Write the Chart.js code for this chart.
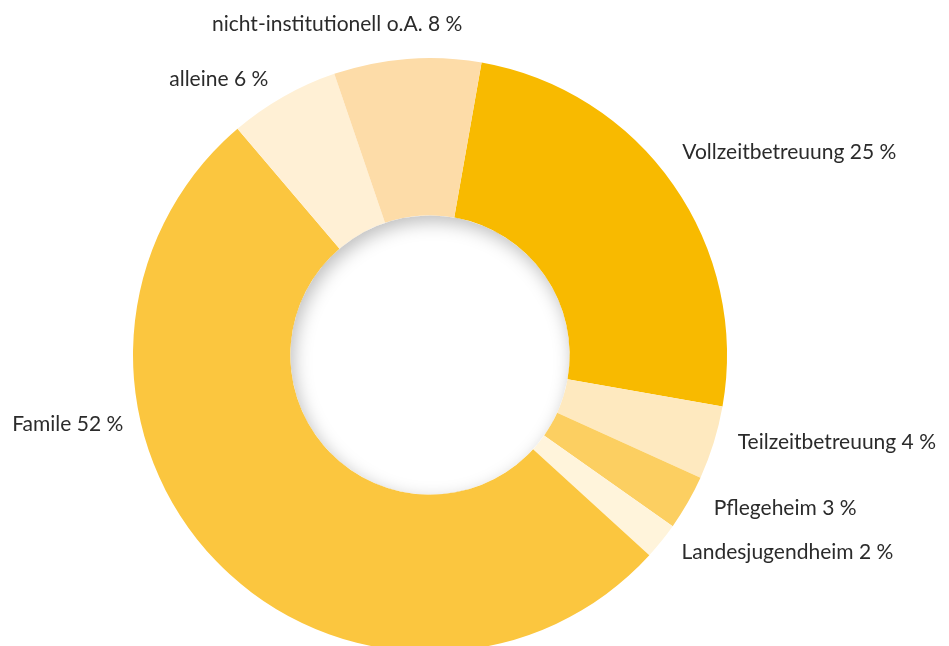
<!DOCTYPE html>
<html>
<head>
<meta charset="utf-8">
<script src="https://cdn.jsdelivr.net/npm/chart.js@4.4.0/dist/chart.umd.min.js"></script>
<style>
  html, body { margin: 0; padding: 0; background: #fff; overflow: hidden; }
  #wrap { width: 949px; height: 646px; overflow: hidden; }
</style>
</head>
<body>
<div id="wrap"><canvas id="chart" width="949" height="660"></canvas></div>
<script>
// Verteilung nach Wohnform (Anteile in %)
var categories = ['Vollzeitbetreuung', 'Teilzeitbetreuung', 'Pflegeheim', 'Landesjugendheim', 'Famile', 'alleine', 'nicht-institutionell o.A.'];
var shares = [25, 4, 3, 2, 52, 6, 8];
var sliceColors = ['#F8BA00', '#FEE9BF', '#FCCF61', '#FFF4DB', '#FBC63F', '#FFF0D5', '#FDDCA8'];

// label placement relative to the outer middle of each slice: [dx, dy(baseline), align]
var labelOffsets = [
    [9, -26, 'left'],
    [24, 6, 'left'],
    [26, 12, 'left'],
    [20, 18, 'left'],
    [-93, -130, 'right'],
    [-15, -11, 'right'],
    [-70, -28, 'center']
];

// soft inner shadow in the hole
var holeShadow = {
    id: 'holeShadow',
    afterDatasetsDraw: function (chart) {
        var arc = chart.getDatasetMeta(0).data[0];
        var ctx = chart.ctx;
        var r = arc.innerRadius;
        ctx.save();
        ctx.beginPath();
        ctx.arc(arc.x, arc.y, r, 0, Math.PI * 2);
        ctx.clip();
        ctx.beginPath();
        ctx.rect(arc.x - r * 3, arc.y - r * 3, r * 6, r * 6);
        ctx.arc(arc.x, arc.y, r, 0, Math.PI * 2, true);
        ctx.shadowColor = 'rgba(0,0,0,0.26)';
        ctx.shadowBlur = 18;
        ctx.shadowOffsetX = 3;
        ctx.shadowOffsetY = 6;
        ctx.fillStyle = '#fff';
        ctx.fill();
        ctx.restore();
    }
};

var sliceLabels = {
    id: 'sliceLabels',
    afterDraw: function (chart) {
        var ctx = chart.ctx;
        var meta = chart.getDatasetMeta(0);
        ctx.save();
        ctx.font = '21px Lato, "Open Sans", sans-serif';
        ctx.fillStyle = '#2b2b2b';
        ctx.textBaseline = 'alphabetic';
        meta.data.forEach(function (arc, i) {
            var mid = (arc.startAngle + arc.endAngle) / 2;
            var px = arc.x + Math.cos(mid) * arc.outerRadius;
            var py = arc.y + Math.sin(mid) * arc.outerRadius;
            var o = labelOffsets[i];
            ctx.textAlign = o[2];
            ctx.fillText(categories[i] + ' ' + shares[i] + ' %', px + o[0], py + o[1]);
        });
        ctx.restore();
    }
};

var ctx = document.getElementById('chart').getContext('2d');
var chart = new Chart(ctx, {
    type: 'doughnut',
    data: {
        labels: categories,
        datasets: [{
            data: shares,
            backgroundColor: sliceColors,
            borderWidth: 0
        }]
    },
    options: {
        responsive: false,
        animation: false,
        rotation: 10,
        cutout: '47%',
        events: [],
        layout: { padding: { left: 133, right: 222, top: 58, bottom: 8 } },
        plugins: {
            legend: { display: false },
            tooltip: { enabled: false }
        }
    },
    plugins: [holeShadow, sliceLabels]
});
</script>
</body>
</html>
